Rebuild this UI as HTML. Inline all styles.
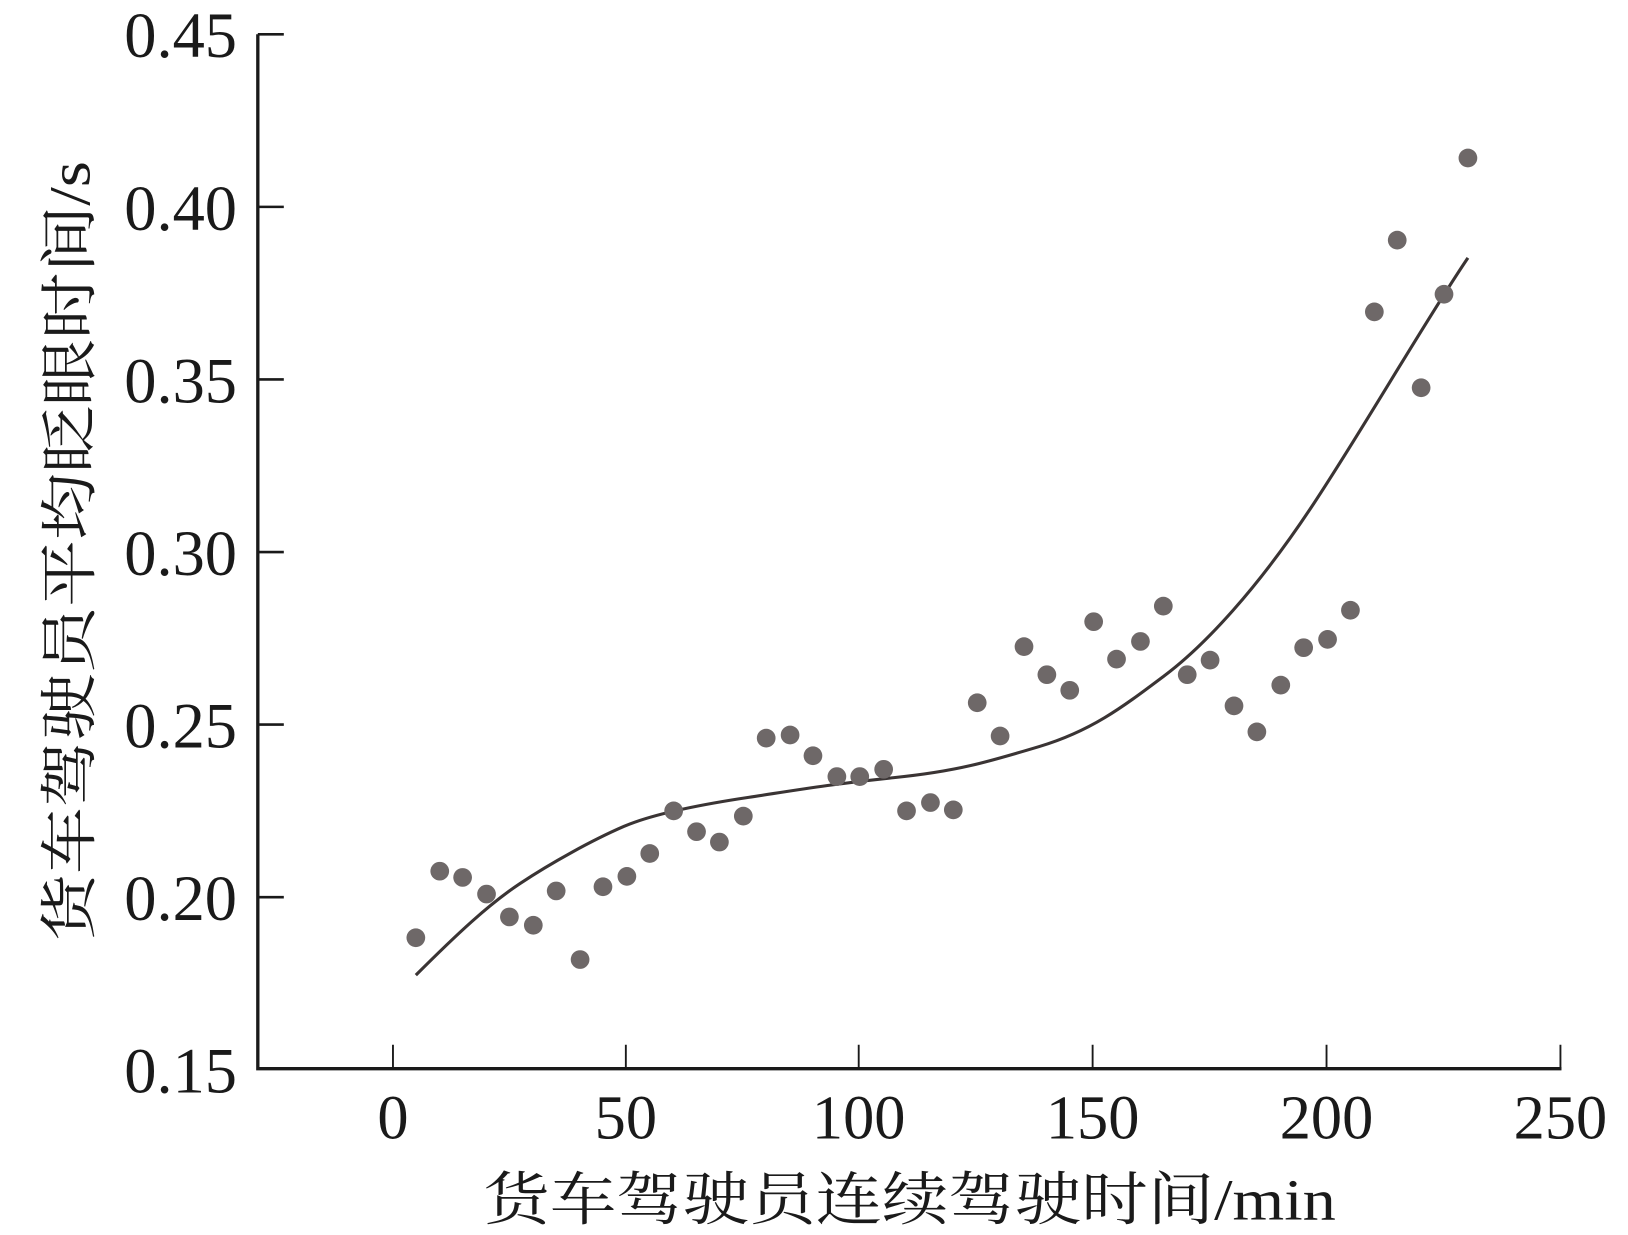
<!DOCTYPE html>
<html><head><meta charset="utf-8"><style>
html,body{margin:0;padding:0;background:#fff;}
svg{display:block;}
text{font-family:"Liberation Serif","Noto Serif CJK SC",serif;fill:#1a1a1a;}
</style></head><body>
<svg width="1628" height="1235" viewBox="0 0 1628 1235" xmlns="http://www.w3.org/2000/svg">
<g transform="scale(1.0396)">
<g stroke="#1a1a1a" fill="none">
<path d="M248 33 V1028 H1502" stroke-width="3.2"/>
<path d="M248 33 H273 M248 199 H273 M248 365 H273 M248 531 H273 M248 697 H273 M248 863 H273" stroke-width="2.5"/>
<path d="M378 1028 V1005 M602 1028 V1005 M826 1028 V1005 M1051 1028 V1005 M1276 1028 V1005 M1501 1028 V1005" stroke-width="1.8"/>
</g>
<g font-size="62" text-anchor="end">
<text x="228" y="55">0.45</text>
<text x="228" y="221">0.40</text>
<text x="228" y="387">0.35</text>
<text x="228" y="553">0.30</text>
<text x="228" y="719">0.25</text>
<text x="228" y="885">0.20</text>
<text x="228" y="1051">0.15</text>
</g>
<g font-size="60" text-anchor="middle">
<text x="378" y="1095">0</text>
<text x="602" y="1095">50</text>
<text x="826" y="1095">100</text>
<text x="1051" y="1095">150</text>
<text x="1276" y="1095">200</text>
<text x="1501" y="1095">250</text>
</g>
<text x="465" y="1173" font-size="56" textLength="820" lengthAdjust="spacingAndGlyphs">货车驾驶员连续驾驶时间/min</text>
<text transform="translate(86,905) rotate(-90)" font-size="56" textLength="750" lengthAdjust="spacingAndGlyphs">货车驾驶员平均眨眼时间/s</text>
<path d="M400 938 C440 898 470 870 500 850 S570 808 600 795 S680 773 720 767 S800 754 860 748 S950 733 1000 718 S1080 680 1120 650 S1210 565 1260 490 S1370 310 1412 248" fill="none" stroke="#3a3434" stroke-width="3"/>
<g fill="#6e6868">
<circle cx="400" cy="902" r="9"/><circle cx="423" cy="838" r="9"/><circle cx="445" cy="844" r="9"/><circle cx="468" cy="860" r="9"/><circle cx="490" cy="882" r="9"/><circle cx="513" cy="890" r="9"/><circle cx="535" cy="857" r="9"/><circle cx="558" cy="923" r="9"/><circle cx="580" cy="853" r="9"/><circle cx="603" cy="843" r="9"/><circle cx="625" cy="821" r="9"/><circle cx="648" cy="780" r="9"/><circle cx="670" cy="800" r="9"/><circle cx="692" cy="810" r="9"/><circle cx="715" cy="785" r="9"/><circle cx="737" cy="710" r="9"/><circle cx="760" cy="707" r="9"/><circle cx="782" cy="727" r="9"/><circle cx="805" cy="747" r="9"/><circle cx="827" cy="747" r="9"/><circle cx="850" cy="740" r="9"/><circle cx="872" cy="780" r="9"/><circle cx="895" cy="772" r="9"/><circle cx="917" cy="779" r="9"/><circle cx="940" cy="676" r="9"/><circle cx="962" cy="708" r="9"/><circle cx="985" cy="622" r="9"/><circle cx="1007" cy="649" r="9"/><circle cx="1029" cy="664" r="9"/><circle cx="1052" cy="598" r="9"/><circle cx="1074" cy="634" r="9"/><circle cx="1097" cy="617" r="9"/><circle cx="1119" cy="583" r="9"/><circle cx="1142" cy="649" r="9"/><circle cx="1164" cy="635" r="9"/><circle cx="1187" cy="679" r="9"/><circle cx="1209" cy="704" r="9"/><circle cx="1232" cy="659" r="9"/><circle cx="1254" cy="623" r="9"/><circle cx="1277" cy="615" r="9"/><circle cx="1299" cy="587" r="9"/><circle cx="1322" cy="300" r="9"/><circle cx="1344" cy="231" r="9"/><circle cx="1367" cy="373" r="9"/><circle cx="1389" cy="283" r="9"/><circle cx="1412" cy="152" r="9"/>
</g>
</g>
</svg>
</body></html>
